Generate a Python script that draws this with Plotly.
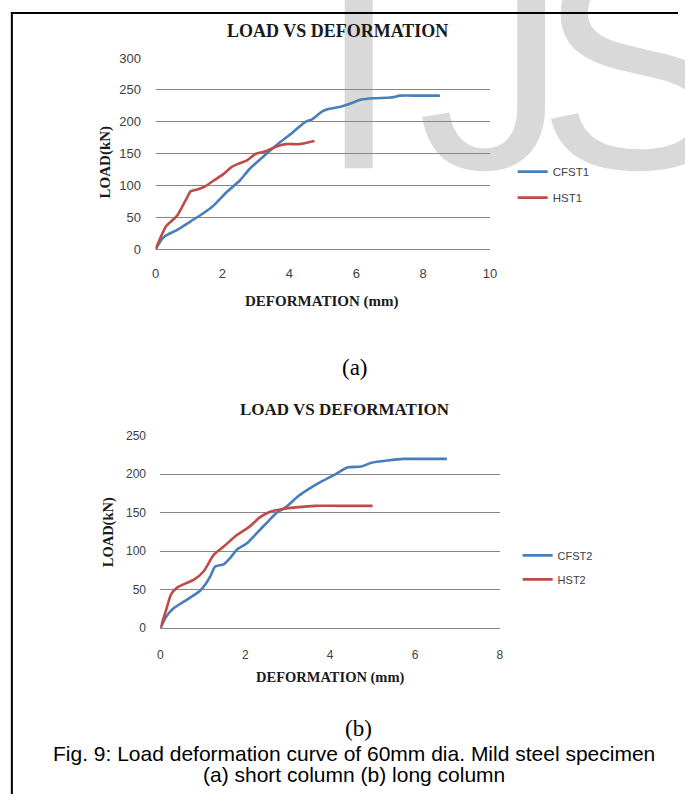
import plotly.graph_objects as go

W, H = 685, 802

# ---- data ----
cfst1_x = [0, 0.22, 0.36, 0.66, 1.05, 1.44, 1.74, 2.13, 2.52, 2.81, 3.3, 3.7, 4.09, 4.48, 4.68, 4.97, 5.17, 5.56, 5.85, 6.15, 6.54, 7.03, 7.32, 7.9, 8.5]
cfst1_y = [0, 18, 23, 31, 44, 57, 69, 90, 108, 126, 149, 167, 183, 200, 204, 216, 220, 224, 229, 235, 237, 238, 241, 241, 241]
hst1_x = [0, 0.17, 0.31, 0.51, 0.66, 0.8, 0.95, 1.05, 1.25, 1.49, 1.74, 2.03, 2.27, 2.47, 2.72, 3.0, 3.3, 3.6, 3.89, 4.28, 4.58, 4.75]
hst1_y = [0, 21, 36, 46, 54, 67, 82, 91, 94, 99, 108, 118, 129, 134, 139, 150, 154, 161, 165, 165, 168, 170]

cfst2_x = [0, 0.13, 0.29, 0.48, 0.71, 0.94, 1.06, 1.18, 1.29, 1.49, 1.64, 1.8, 2.03, 2.26, 2.49, 2.72, 2.95, 3.26, 3.5, 3.81, 4.12, 4.42, 4.73, 4.97, 5.35, 5.74, 6.13, 6.75]
cfst2_y = [0, 14.5, 25, 32, 40, 49, 57, 68, 80, 83, 91, 102, 110, 123, 136, 149, 157, 172, 181, 191, 200, 209, 210, 215, 218, 220, 220, 220]
hst2_x = [0, 0.13, 0.25, 0.4, 0.63, 0.79, 1.02, 1.25, 1.49, 1.8, 2.1, 2.34, 2.57, 2.88, 3.19, 3.65, 4.19, 5.0]
hst2_y = [0, 23, 44, 53, 59, 63, 74, 95, 106, 121, 132, 144, 151, 155, 157, 159, 159, 159]

chart_title = "LOAD VS DEFORMATION"
x_title = "DEFORMATION (mm)"
y_title = "LOAD(kN)"
caption_a = "(a)"
caption_b = "(b)"
caption_1 = "Fig. 9: Load deformation curve of 60mm dia. Mild steel specimen"
caption_2 = "(a) short column (b) long column"
watermark = ["I", "J", "S"]

BLUE = "#4a7ebb"
RED = "#be4b48"
GRID = "#868686"
TXT = "#404040"


def px(x):
    return x / W


def py(y):
    return 1 - y / H


fig = go.Figure()

line_kw = dict(mode="lines", line_shape="spline", line_smoothing=0.6, hoverinfo="skip")
fig.add_trace(go.Scatter(x=cfst1_x, y=cfst1_y, name="CFST1", line=dict(color=BLUE, width=2.6),
                         xaxis="x", yaxis="y", legend="legend", legendgroup="a1", **line_kw))
fig.add_trace(go.Scatter(x=hst1_x, y=hst1_y, name="HST1", line=dict(color=RED, width=2.6),
                         xaxis="x", yaxis="y", legend="legend", legendgroup="a2", **line_kw))
fig.add_trace(go.Scatter(x=cfst2_x, y=cfst2_y, name="CFST2", line=dict(color=BLUE, width=2.6),
                         xaxis="x2", yaxis="y2", legend="legend2", legendgroup="b1", **line_kw))
fig.add_trace(go.Scatter(x=hst2_x, y=hst2_y, name="HST2", line=dict(color=RED, width=2.6),
                         xaxis="x2", yaxis="y2", legend="legend2", legendgroup="b2", **line_kw))

tick_a = dict(family="Liberation Sans, Arial, sans-serif", size=13, color=TXT)
tick_b = dict(family="Liberation Sans, Arial, sans-serif", size=12, color=TXT)

fig.update_layout(
    width=W, height=H,
    margin=dict(l=0, r=0, t=0, b=0),
    paper_bgcolor="white",
    plot_bgcolor="rgba(0,0,0,0)",
    xaxis=dict(domain=[px(154), px(494)], range=[0, 10], dtick=2, showgrid=False, zeroline=False,
               showline=False, ticks="outside", ticklen=12, tickcolor="rgba(0,0,0,0)", tickfont=tick_a,
               anchor="y", fixedrange=True),
    yaxis=dict(domain=[py(247), py(52)], range=[0, 300], dtick=50, showgrid=True, gridcolor=GRID, gridwidth=1,
               zeroline=True, zerolinecolor=GRID, zerolinewidth=1, showline=False, ticks="outside",
               ticklen=11, tickcolor="rgba(0,0,0,0)", tickfont=tick_a, anchor="x", fixedrange=True),
    xaxis2=dict(domain=[px(159), px(504)], range=[0, 8], dtick=2, showgrid=False, zeroline=False,
                showline=False, ticks="outside", ticklen=15, tickcolor="rgba(0,0,0,0)", tickfont=tick_b,
                anchor="y2", fixedrange=True),
    yaxis2=dict(domain=[py(633), py(437)], range=[0, 250], dtick=50, showgrid=True, gridcolor=GRID, gridwidth=1,
                zeroline=True, zerolinecolor=GRID, zerolinewidth=1, showline=False, ticks="outside",
                ticklen=11, tickcolor="rgba(0,0,0,0)", tickfont=tick_b, anchor="x2", fixedrange=True),
    legend=dict(x=px(517), y=py(153), xanchor="left", yanchor="top", traceorder="grouped",
                tracegroupgap=7, bgcolor="rgba(0,0,0,0)",
                font=dict(family="Liberation Sans, Arial, sans-serif", size=11.5, color=TXT)),
    legend2=dict(x=px(522), y=py(544), xanchor="left", yanchor="top", traceorder="grouped",
                 tracegroupgap=5, bgcolor="rgba(0,0,0,0)",
                 font=dict(family="Liberation Sans, Arial, sans-serif", size=11, color=TXT)),
    showlegend=True,
)

serif_b = "Liberation Serif, Times New Roman, serif"
ann = []
ann.append(dict(text="<b>" + chart_title + "</b>", x=px(339), y=py(24), font=dict(family=serif_b, size=18, color="#1a1a1a")))
ann.append(dict(text="<b>" + chart_title + "</b>", x=px(346.5), y=py(410), font=dict(family=serif_b, size=17, color="#1a1a1a")))
ann.append(dict(text="<b>" + x_title + "</b>", x=px(323), y=py(300), font=dict(family=serif_b, size=15, color="#1a1a1a")))
ann.append(dict(text="<b>" + x_title + "</b>", x=px(332), y=py(683), font=dict(family=serif_b, size=14.5, color="#1a1a1a")))
ann.append(dict(text="<b>" + y_title + "</b>", x=px(103), y=py(158), textangle=-90, font=dict(family=serif_b, size=15, color="#1a1a1a")))
ann.append(dict(text="<b>" + y_title + "</b>", x=px(107), y=py(535), textangle=-90, font=dict(family=serif_b, size=14.5, color="#1a1a1a")))
ann.append(dict(text=caption_a, x=px(357), y=py(367), font=dict(family="Liberation Serif, serif", size=23, color="black")))
ann.append(dict(text=caption_b, x=px(360), y=py(735), font=dict(family="Liberation Serif, serif", size=23, color="black")))
ann.append(dict(text=caption_1, x=px(356), y=py(761), font=dict(family="Liberation Sans, Arial, sans-serif", size=21, color="black")))
ann.append(dict(text=caption_2, x=px(356), y=py(782), font=dict(family="Liberation Sans, Arial, sans-serif", size=21, color="black")))
for a in ann:
    a.update(xref="paper", yref="paper", showarrow=False, xanchor="center", yanchor="middle")
fig.update_layout(annotations=ann)

shapes = []
# watermark letters (drawn below everything)
wm_pos = [(312, "I"), (414, "J"), (536, "S")]
for x0, letter in wm_pos:
    shapes.append(dict(type="rect", xref="paper", yref="paper", layer="below",
                       x0=px(x0), x1=px(x0 + 250), y0=py(204), y1=py(-100),
                       line=dict(width=0), fillcolor="rgba(0,0,0,0)",
                       label=dict(text=letter, textposition="bottom left",
                                  font=dict(family="Liberation Sans, Arial, sans-serif", size=300, color="#d9d9d9"))))
# frame
shapes.append(dict(type="line", xref="paper", yref="paper", x0=px(7), x1=1.0, y0=py(6), y1=py(6),
                   line=dict(color="black", width=2), layer="above"))
shapes.append(dict(type="line", xref="paper", yref="paper", x0=px(8), x1=px(8), y0=py(5), y1=0,
                   line=dict(color="black", width=2), layer="above"))
fig.update_layout(shapes=shapes)

post = """
document.body.style.margin='0';
document.documentElement.style.margin='0';
document.body.style.overflow='hidden';
"""
fig.write_html("out.html", config={"displayModeBar": False}, post_script=post)
